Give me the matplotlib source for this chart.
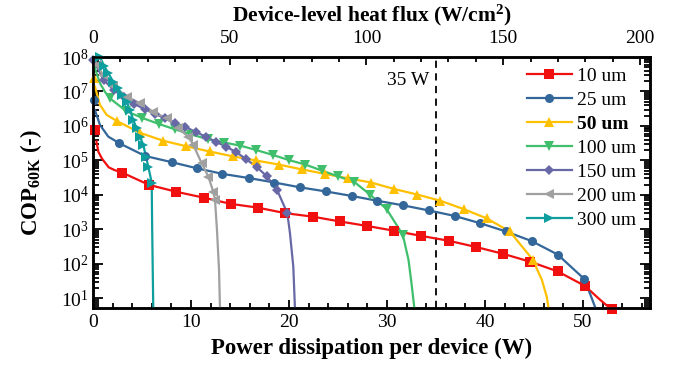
import numpy as np
import matplotlib
matplotlib.use('Agg')
import matplotlib.pyplot as plt
from matplotlib.ticker import MultipleLocator, LogLocator, NullFormatter
from matplotlib.lines import Line2D

plt.rcParams['font.family'] = ['Liberation Serif', 'DejaVu Serif']
plt.rcParams['mathtext.fontset'] = 'custom'
plt.rcParams['mathtext.rm'] = 'Liberation Serif'
plt.rcParams['mathtext.bf'] = 'Liberation Serif:bold'
plt.rcParams['mathtext.it'] = 'Liberation Serif:italic'

# ---------------- data (power W, log10 COP) ----------------
series_labels = ['10 um', '25 um', '50 um', '100 um', '150 um', '200 um', '300 um']

# 10 um
m10_w = [0.20, 2.95, 5.73, 8.51, 11.30, 14.07, 16.84, 19.63, 22.41, 25.19, 27.97, 30.74,
         33.52, 36.31, 39.08, 41.87, 44.64, 47.43, 50.20, 52.99]
m10_lg = [5.88, 4.65, 4.29, 4.09, 3.92, 3.74, 3.63, 3.47, 3.37, 3.23, 3.10, 2.96,
          2.81, 2.67, 2.49, 2.29, 2.06, 1.78, 1.36, 0.69]
c10_w = [0.35, 0.55, 0.90, 1.60, 2.20, 2.95, 5.73, 8.51, 11.30, 14.07, 16.84, 19.63, 22.41,
         25.19, 27.97, 30.74, 33.52, 36.31, 39.08, 41.87, 44.64, 47.43, 50.20, 51.70, 52.40, 52.99]
c10_lg = [5.55, 5.25, 5.06, 4.80, 4.72, 4.65, 4.29, 4.09, 3.92, 3.74, 3.63, 3.47, 3.37,
          3.23, 3.10, 2.96, 2.81, 2.67, 2.49, 2.29, 2.06, 1.78, 1.36, 0.97, 0.80, 0.69]

# 25 um
m25_w = [0.13, 2.68, 5.31, 8.03, 10.64, 13.21, 15.89, 18.50, 21.12, 23.78, 26.40, 29.01,
         31.60, 34.26, 36.91, 39.49, 42.14, 44.77, 47.42, 50.10]
m25_lg = [6.75, 5.50, 5.13, 4.95, 4.77, 4.61, 4.49, 4.36, 4.22, 4.10, 3.97, 3.83,
          3.70, 3.55, 3.39, 3.18, 2.94, 2.66, 2.27, 1.57]
c25_w = [0.20, 0.71, 1.56, 2.68, 5.31, 8.03, 10.64, 13.21, 15.89, 18.50, 21.12, 23.78, 26.40,
         29.01, 31.60, 34.26, 36.91, 39.49, 42.14, 44.77, 47.42, 50.10, 50.70, 51.30]
c25_lg = [6.46, 6.03, 5.69, 5.50, 5.13, 4.95, 4.77, 4.61, 4.49, 4.36, 4.22, 4.10, 3.97,
          3.83, 3.70, 3.55, 3.39, 3.18, 2.94, 2.66, 2.27, 1.57, 1.15, 0.70]

# 50 um
m50_w = [0.10, 2.46, 4.81, 7.17, 9.53, 11.89, 14.24, 16.60, 18.96, 21.31, 23.67, 26.03,
         28.38, 30.74, 33.10, 35.46, 37.81, 40.17, 42.53, 44.88]
m50_lg = [7.38, 6.14, 5.80, 5.57, 5.41, 5.26, 5.12, 5.00, 4.88, 4.74, 4.61, 4.48,
          4.36, 4.17, 4.01, 3.83, 3.59, 3.32, 2.94, 2.12]
c50_w = [0.20, 0.71, 1.40, 2.46, 4.81, 7.17, 9.53, 11.89, 14.24, 16.60, 18.96, 21.31, 23.67,
         26.03, 28.38, 30.74, 33.10, 35.46, 37.81, 40.17, 42.53, 44.88, 45.80, 46.30, 46.50]
c50_lg = [7.14, 6.61, 6.32, 6.14, 5.80, 5.57, 5.41, 5.26, 5.12, 5.00, 4.88, 4.74, 4.61,
          4.48, 4.36, 4.17, 4.01, 3.83, 3.59, 3.32, 2.94, 2.12, 1.54, 1.05, 0.70]

# 100 um
m100_w = [1.73, 3.40, 5.05, 6.71, 8.38, 10.04, 11.69, 13.36, 15.02, 16.68, 18.34, 20.00,
          21.66, 23.32, 24.98, 26.64, 28.31, 29.96, 31.62]
m100_lg = [6.80, 6.43, 6.23, 6.06, 5.90, 5.75, 5.62, 5.52, 5.43, 5.30, 5.16, 5.01,
           4.88, 4.71, 4.54, 4.38, 4.00, 3.59, 2.84]
c100_w = [0.05, 0.20, 0.71, 1.22, 1.73, 3.40, 5.05, 6.71, 8.38, 10.04, 11.69, 13.36, 15.02,
          16.68, 18.34, 20.00, 21.66, 23.32, 24.98, 26.64, 28.31, 29.96, 31.62, 32.20, 32.50, 32.80]
c100_lg = [7.91, 7.67, 7.24, 6.99, 6.80, 6.43, 6.23, 6.06, 5.90, 5.75, 5.62, 5.52, 5.43,
           5.30, 5.16, 5.01, 4.88, 4.71, 4.54, 4.38, 4.00, 3.59, 2.84, 2.11, 1.44, 0.70]

# 150 um
m150_w = [0.05, 1.09, 2.13, 3.17, 4.21, 5.26, 6.30, 7.34, 8.38, 9.42, 10.46, 11.50,
          12.54, 13.58, 14.62, 15.66, 16.70, 17.74, 18.79, 19.83]
m150_lg = [7.91, 7.33, 7.04, 6.84, 6.64, 6.49, 6.36, 6.22, 6.09, 5.97, 5.83, 5.69,
           5.54, 5.40, 5.24, 5.03, 4.81, 4.54, 4.14, 3.47]
c150_w = m150_w + [20.10, 20.44, 20.61]
c150_lg = m150_lg + [2.89, 1.92, 0.70]

# 200 um
m200_w = [0.38, 1.05, 2.09, 3.44, 4.80, 6.15, 7.52, 8.70, 9.72, 10.23, 11.09, 11.77, 12.28, 12.45]
m200_lg = [7.77, 7.48, 7.16, 6.85, 6.66, 6.41, 6.22, 5.93, 5.69, 5.45, 4.92, 4.53, 4.09, 3.86]
c200_w = [0.10] + m200_w + [12.65, 12.86, 12.96]
c200_lg = [8.10] + m200_lg + [2.99, 1.83, 0.70]

# 300 um
m300_w = [0.71, 1.12, 1.56, 2.07, 2.58, 2.93, 3.44, 3.78, 4.11, 4.46, 4.80, 5.13, 5.41, 5.64, 5.99]
m300_lg = [8.00, 7.75, 7.53, 7.28, 7.09, 6.90, 6.70, 6.46, 6.17, 5.93, 5.69, 5.45, 5.11, 4.82, 4.36]
c300_w = [0.55] + m300_w + [6.04, 6.15]
c300_lg = [8.10] + m300_lg + [2.99, 0.70]

curves = [(c10_w, c10_lg), (c25_w, c25_lg), (c50_w, c50_lg), (c100_w, c100_lg),
          (c150_w, c150_lg), (c200_w, c200_lg), (c300_w, c300_lg)]
marks = [(m10_w, m10_lg), (m25_w, m25_lg), (m50_w, m50_lg), (m100_w, m100_lg),
         (m150_w, m150_lg), (m200_w, m200_lg), (m300_w, m300_lg)]

colors = ['#f01010', '#336699', '#ffc000', '#3fbf6c', '#6868a6', '#a0a0a0', '#0e9e9e']
markers = ['s', 'o', '^', 'v', 'D', '<', '>']
msizes = [6.5, 6.5, 7, 7, 5.5, 6.5, 6.5]

x_ticks_bottom = [0, 10, 20, 30, 40, 50]
x_ticks_top = [0, 50, 100, 150, 200]
limit_power = 35

# ---------------- figure ----------------
fig = plt.figure(figsize=(6.84, 3.67), dpi=100)
ax = fig.add_axes([93/684, 1-308/367, (650-93)/684, (308-57)/367])

for (cw, cl), (mw, ml), c, mk, ms in zip(curves, marks, colors, markers, msizes):
    ax.plot(cw, 10**np.array(cl), color=c, lw=1.6, zorder=3)
    ax.plot(mw, 10**np.array(ml), ls='none', marker=mk, ms=ms, color=c,
            markeredgewidth=0, zorder=4, clip_on=False)

ax.axvline(limit_power, color='black', ls=(0, (4, 3)), lw=1.3, zorder=2)
ax.text(limit_power - 0.7, 10**7.33, '35 W', ha='right', va='center', fontsize=14)

ax.set_yscale('log')
ax.set_xlim(0, 56.84)
ax.set_ylim(10**0.72, 1e8)
ax.set_xticks(x_ticks_bottom)
ax.xaxis.set_minor_locator(MultipleLocator(2))
ax.yaxis.set_major_locator(LogLocator(base=10, numticks=20))
ax.yaxis.set_minor_locator(LogLocator(base=10, subs=np.arange(2, 10), numticks=100))
ax.yaxis.set_minor_formatter(NullFormatter())

ax.tick_params(which='both', direction='in', top=False, right=True, labelsize=14, width=1.3)
ax.tick_params(which='major', axis='x', length=6)
ax.tick_params(which='minor', axis='x', length=3.5)
ax.tick_params(which='major', axis='y', length=7)
ax.tick_params(which='minor', axis='y', length=4)
ax.tick_params(axis='x', pad=4)
ax.tick_params(axis='y', pad=3)
for sp in ax.spines.values():
    sp.set_linewidth(1.8)

ax.set_xlabel('Power dissipation per device (W)', fontsize=16.5, fontweight='bold', labelpad=5)
ax.set_ylabel(r'COP$_{\mathbf{60K}}$ (-)', fontsize=16.5, fontweight='bold', labelpad=12)

ax2 = ax.twiny()
ax2.set_xlim(0, 203.7)
ax2.set_xticks(x_ticks_top)
ax2.xaxis.set_minor_locator(MultipleLocator(10))
ax2.tick_params(which='both', direction='in', labelsize=14, width=1.3, pad=7.5)
ax2.tick_params(which='major', length=6)
ax2.tick_params(which='minor', length=3.5)
ax2.set_xlabel(r'Device-level heat flux (W/cm$^{\mathbf{2}}$)', fontsize=15.5,
               fontweight='bold', labelpad=6)
for sp in ax2.spines.values():
    sp.set_linewidth(1.8)

handles = [Line2D([], [], color=c, marker=mk, ms=ms, lw=1.6, markeredgewidth=0)
           for c, mk, ms in zip(colors, markers, msizes)]
leg = ax.legend(handles, series_labels, loc='upper left', bbox_to_anchor=(0.765, 0.99),
                frameon=False, fontsize=14, handlelength=2.3, handletextpad=0.3,
                labelspacing=0.33, borderpad=0.2, borderaxespad=0.2)
leg.get_texts()[2].set_fontweight('bold')

fig.savefig('out.png', dpi=100)
